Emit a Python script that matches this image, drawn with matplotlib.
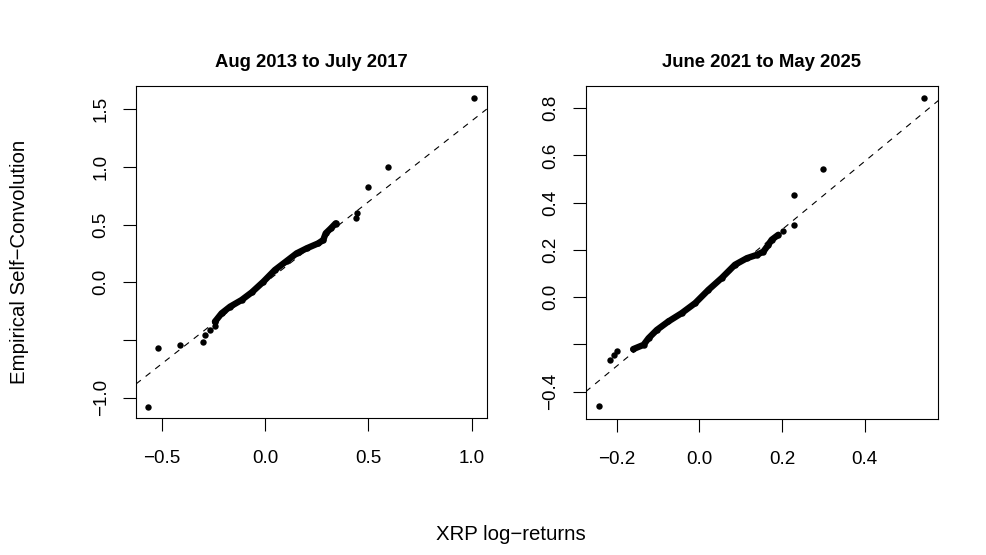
import matplotlib
matplotlib.use("Agg")
import matplotlib.pyplot as plt

plt.rcParams['font.family'] = ['Liberation Sans', 'DejaVu Sans']
plt.rcParams['axes.unicode_minus'] = True

# ---------------- data ----------------
titles = ["Aug 2013 to July 2017", "June 2021 to May 2025"]
x_label = "XRP log\u2212returns"
y_label = "Empirical Self\u2212Convolution"

# Left panel: isolated points
left_pts_x = [-0.565, -0.516, -0.413, -0.300, -0.290, -0.266, -0.243, -0.243,
              0.342, 0.439, 0.445, 0.498, 0.595, 1.011]
left_pts_y = [-1.078, -0.572, -0.543, -0.515, -0.459, -0.413, -0.379, -0.333,
              0.505, 0.560, 0.598, 0.826, 0.997, 1.594]
# Left panel: dense body of the Q-Q curve
left_curve_x = [-0.242, -0.210, -0.169, -0.113, -0.064, -0.008, 0.048, 0.105,
                0.153, 0.202, 0.258, 0.282, 0.294, 0.319, 0.342]
left_curve_y = [-0.341, -0.269, -0.211, -0.153, -0.087, 0.005, 0.107, 0.185,
                0.251, 0.295, 0.338, 0.367, 0.425, 0.468, 0.511]
left_line = (-0.005, 1.404)   # intercept, slope

# Right panel: isolated points
right_pts_x = [-0.243, -0.217, -0.207, -0.200, 0.203, 0.229, 0.229, 0.300, 0.544]
right_pts_y = [-0.463, -0.266, -0.247, -0.226, 0.281, 0.306, 0.433, 0.544, 0.843]
# Right panel: dense body of the Q-Q curve
right_curve_x = [-0.160, -0.135, -0.123, -0.103, -0.075, -0.043, -0.010, 0.022,
                 0.054, 0.086, 0.115, 0.139, 0.155, 0.167, 0.175, 0.191]
right_curve_y = [-0.220, -0.202, -0.174, -0.139, -0.103, -0.068, -0.025, 0.031,
                 0.081, 0.137, 0.165, 0.179, 0.193, 0.222, 0.243, 0.264]
right_line = (-0.003, 1.445)

left_xticks = [-0.5, 0.0, 0.5, 1.0]
left_xticklabels = ["\u22120.5", "0.0", "0.5", "1.0"]
left_yticks = [-1.0, -0.5, 0.0, 0.5, 1.0, 1.5]
left_yticklabels = ["\u22121.0", "", "0.0", "0.5", "1.0", "1.5"]

right_xticks = [-0.2, 0.0, 0.2, 0.4]
right_xticklabels = ["\u22120.2", "0.0", "0.2", "0.4"]
right_yticks = [-0.4, -0.2, 0.0, 0.2, 0.4, 0.6, 0.8]
right_yticklabels = ["\u22120.4", "", "0.0", "0.2", "0.4", "0.6", "0.8"]

left_xlim, left_ylim = (-0.624, 1.073), (-1.176, 1.702)
right_xlim, right_ylim = (-0.275, 0.578), (-0.516, 0.894)

# ---------------- figure ----------------
W, H = 987, 555
fig = plt.figure(figsize=(W / 100, H / 100), dpi=100)

def px_axes(x0, x1, y0, y1):
    return fig.add_axes([x0 / W, 1 - y1 / H, (x1 - x0) / W, (y1 - y0) / H])

ax1 = px_axes(136, 486.7, 86, 418)
ax2 = px_axes(585.7, 938.3, 86, 419)

panels = [
    (ax1, titles[0], left_pts_x, left_pts_y, left_curve_x, left_curve_y, left_line,
     left_xticks, left_xticklabels, left_yticks, left_yticklabels, left_xlim, left_ylim),
    (ax2, titles[1], right_pts_x, right_pts_y, right_curve_x, right_curve_y, right_line,
     right_xticks, right_xticklabels, right_yticks, right_yticklabels, right_xlim, right_ylim),
]

FS_TICK = 13.6
FS_TITLE = 13.3
FS_LAB = 14.7
MS = 4.6
for (ax, title, px, py, cx, cy, line, xt, xtl, yt, ytl, xl, yl) in panels:
    ax.plot(cx, cy, color='black', lw=MS, solid_capstyle='round',
            solid_joinstyle='round', zorder=3)
    ax.plot(cx, cy, 'o', color='black', ms=MS, mew=0, zorder=3)
    ax.plot(px, py, 'o', color='black', ms=MS, mew=0, zorder=3)
    ax.axline((0, line[0]), slope=line[1], color='black', lw=0.8,
              dashes=(5.5, 5.5), zorder=2)
    ax.set_xlim(*xl)
    ax.set_ylim(*yl)
    ax.set_xticks(xt)
    ax.set_xticklabels(xtl, fontsize=FS_TICK)
    ax.set_yticks(yt)
    ax.set_yticklabels(ytl, fontsize=FS_TICK, rotation=90, va='center')
    ax.tick_params(axis='both', direction='out', length=9.4, width=0.8,
                   color='black')
    ax.tick_params(axis='x', pad=13.5)
    ax.tick_params(axis='y', pad=9.5)
    for s in ax.spines.values():
        s.set_linewidth(0.8)
    ax.set_title(title, fontsize=FS_TITLE, fontweight='bold', pad=14)

fig.text(20 / W, 1 - 262 / H, y_label, rotation=90, ha='center', va='center',
         fontsize=FS_LAB)
fig.text(511 / W, 1 - 535 / H, x_label, ha='center', va='center', fontsize=FS_LAB)

fig.savefig("out.png", dpi=100, facecolor='white')
